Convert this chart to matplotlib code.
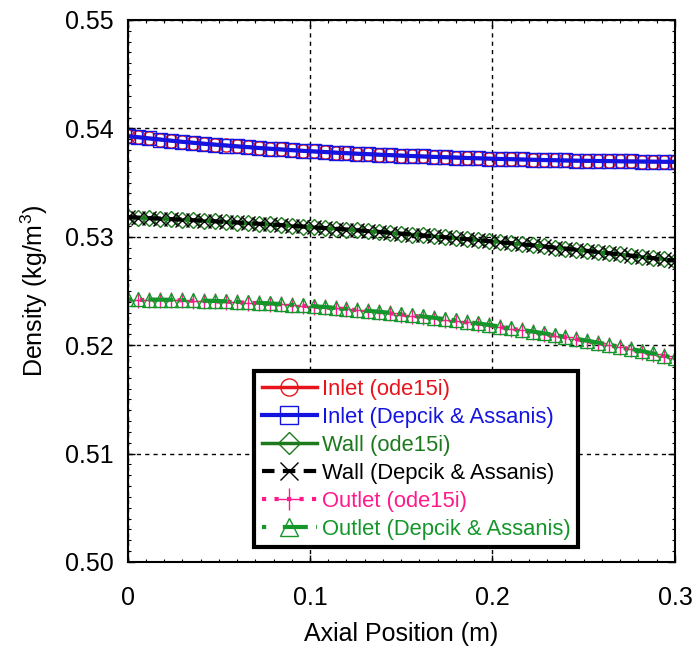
import numpy as np
import matplotlib
matplotlib.use("Agg")
import matplotlib.pyplot as plt
from matplotlib.ticker import MultipleLocator

plt.rcParams['font.family'] = ['Liberation Sans', 'DejaVu Sans']
plt.rcParams['mathtext.fontset'] = 'custom'
plt.rcParams['mathtext.rm'] = 'Liberation Sans'

# axial positions (m)
pos = [0.000, 0.006, 0.012, 0.018, 0.024, 0.030, 0.036, 0.042, 0.048, 0.054,
       0.060, 0.066, 0.072, 0.078, 0.084, 0.090, 0.096, 0.102, 0.108, 0.114,
       0.120, 0.126, 0.132, 0.138, 0.144, 0.150, 0.156, 0.162, 0.168, 0.174,
       0.180, 0.186, 0.192, 0.198, 0.204, 0.210, 0.216, 0.222, 0.228, 0.234,
       0.240, 0.246, 0.252, 0.258, 0.264, 0.270, 0.276, 0.282, 0.288, 0.294,
       0.300]

inlet_ode = [0.53930, 0.53919, 0.53908, 0.53897, 0.53887, 0.53877, 0.53868, 0.53859, 0.53851, 0.53843,
             0.53835, 0.53827, 0.53820, 0.53813, 0.53806, 0.53800, 0.53794, 0.53788, 0.53782, 0.53777,
             0.53772, 0.53767, 0.53762, 0.53758, 0.53753, 0.53749, 0.53745, 0.53741, 0.53737, 0.53734,
             0.53730, 0.53727, 0.53724, 0.53721, 0.53718, 0.53715, 0.53713, 0.53710, 0.53708, 0.53706,
             0.53704, 0.53702, 0.53700, 0.53699, 0.53697, 0.53696, 0.53695, 0.53694, 0.53693, 0.53692,
             0.53691]
inlet_dep = [0.53928, 0.53918, 0.53907, 0.53897, 0.53886, 0.53876, 0.53867, 0.53858, 0.53850, 0.53842,
             0.53834, 0.53827, 0.53819, 0.53812, 0.53806, 0.53799, 0.53793, 0.53787, 0.53782, 0.53776,
             0.53771, 0.53766, 0.53762, 0.53757, 0.53753, 0.53749, 0.53745, 0.53741, 0.53737, 0.53734,
             0.53731, 0.53727, 0.53724, 0.53721, 0.53718, 0.53716, 0.53713, 0.53711, 0.53708, 0.53706,
             0.53704, 0.53702, 0.53701, 0.53699, 0.53698, 0.53696, 0.53695, 0.53694, 0.53693, 0.53692,
             0.53691]

wall_ode = [0.53180, 0.53176, 0.53171, 0.53167, 0.53162, 0.53158, 0.53153, 0.53147, 0.53142, 0.53137,
            0.53131, 0.53125, 0.53120, 0.53114, 0.53107, 0.53101, 0.53094, 0.53088, 0.53081, 0.53074,
            0.53067, 0.53060, 0.53052, 0.53044, 0.53037, 0.53029, 0.53021, 0.53012, 0.53004, 0.52996,
            0.52987, 0.52978, 0.52969, 0.52960, 0.52950, 0.52941, 0.52931, 0.52922, 0.52912, 0.52901,
            0.52891, 0.52881, 0.52870, 0.52860, 0.52849, 0.52838, 0.52826, 0.52815, 0.52804, 0.52792,
            0.52780]
wall_dep = [0.53182, 0.53177, 0.53172, 0.53168, 0.53163, 0.53158, 0.53153, 0.53148, 0.53143, 0.53137,
            0.53132, 0.53126, 0.53120, 0.53114, 0.53108, 0.53101, 0.53095, 0.53088, 0.53081, 0.53074,
            0.53067, 0.53060, 0.53052, 0.53045, 0.53037, 0.53029, 0.53021, 0.53013, 0.53004, 0.52996,
            0.52987, 0.52978, 0.52969, 0.52960, 0.52950, 0.52941, 0.52931, 0.52921, 0.52911, 0.52901,
            0.52891, 0.52880, 0.52870, 0.52859, 0.52848, 0.52837, 0.52826, 0.52815, 0.52803, 0.52791,
            0.52779]

outlet_ode = [0.52418, 0.52418, 0.52417, 0.52416, 0.52415, 0.52413, 0.52410, 0.52407, 0.52404, 0.52401,
              0.52396, 0.52392, 0.52387, 0.52381, 0.52376, 0.52369, 0.52363, 0.52356, 0.52348, 0.52340,
              0.52332, 0.52323, 0.52313, 0.52304, 0.52294, 0.52283, 0.52272, 0.52261, 0.52249, 0.52236,
              0.52224, 0.52210, 0.52197, 0.52183, 0.52168, 0.52153, 0.52138, 0.52122, 0.52106, 0.52089,
              0.52072, 0.52055, 0.52037, 0.52019, 0.52000, 0.51981, 0.51961, 0.51941, 0.51920, 0.51899,
              0.51878]
outlet_dep = [0.52422, 0.52422, 0.52421, 0.52420, 0.52419, 0.52417, 0.52414, 0.52411, 0.52408, 0.52405,
              0.52400, 0.52396, 0.52391, 0.52385, 0.52380, 0.52373, 0.52367, 0.52360, 0.52352, 0.52344,
              0.52336, 0.52327, 0.52317, 0.52308, 0.52298, 0.52287, 0.52276, 0.52265, 0.52253, 0.52240,
              0.52228, 0.52214, 0.52201, 0.52187, 0.52172, 0.52157, 0.52142, 0.52126, 0.52110, 0.52093,
              0.52076, 0.52059, 0.52041, 0.52023, 0.52004, 0.51985, 0.51965, 0.51945, 0.51924, 0.51903,
              0.51882]

labels = ["Inlet (ode15i)", "Inlet (Depcik & Assanis)", "Wall (ode15i)",
          "Wall (Depcik & Assanis)", "Outlet (ode15i)", "Outlet (Depcik & Assanis)"]
red = '#e8141c'
blue = '#1414e0'
dgreen = '#1c7a1c'
pink = '#ff1a8c'
green = '#14962a'

fig = plt.figure(figsize=(6.96, 6.55), dpi=100)
ax = fig.add_axes([0.1832, 0.142, 0.7866, 0.8275])

ax.plot(pos, inlet_ode, color=red, lw=2.5, marker='o', ms=9.5, mfc='none', mew=1.0, label=labels[0])
ax.plot(pos, inlet_dep, color=blue, lw=3, marker='s', ms=10, mfc='none', mew=1.0, label=labels[1])
ax.plot(pos, wall_ode, color=dgreen, lw=2.5, marker='D', ms=8.5, mfc='none', mew=1.0, label=labels[2])
ax.plot(pos, wall_dep, color='black', lw=3, ls=(0, (3, 2)), marker='x', ms=10, mew=1.0, label=labels[3])
ax.plot(pos, outlet_ode, color=pink, lw=3, ls=(0, (1, 2)), marker='+', ms=12, mew=1.0, label=labels[4])
ax.plot(pos, outlet_dep, color=green, lw=3, ls=(0, (1, 4, 6, 2)), marker='^', ms=9.5, mfc='none', mew=1.0,
        label=labels[5])

ax.set_xlim(0, 0.3)
ax.set_ylim(0.50, 0.55)
ax.xaxis.set_minor_locator(MultipleLocator(0.01))
ax.yaxis.set_minor_locator(MultipleLocator(0.001))
ax.set_xticks([0, 0.1, 0.2, 0.3])
ax.set_xticklabels(['0', '0.1', '0.2', '0.3'])
ax.set_yticks([0.50, 0.51, 0.52, 0.53, 0.54, 0.55])
ax.set_yticklabels(['0.50', '0.51', '0.52', '0.53', '0.54', '0.55'])

ax.tick_params(which='both', direction='in', top=True, right=True, labelsize=18)
ax.tick_params(which='major', length=5, width=1)
ax.tick_params(which='minor', length=2.5, width=0.8)
ax.tick_params(axis='x', pad=17)
ax.tick_params(axis='y', pad=10)
for s in ax.spines.values():
    s.set_linewidth(1.5)

ax.grid(True, which='major', color='black', ls=(0, (3, 3)), lw=1)

ax.set_xlabel('Axial Position (m)', fontsize=18, labelpad=9)
ax.set_ylabel('Density (kg/m$^3$)', fontsize=18, labelpad=11)

leg = ax.legend(loc='lower left', bbox_to_anchor=(0.231, 0.027), fontsize=15.8, frameon=True,
                fancybox=False, framealpha=1, edgecolor='black', borderaxespad=0,
                handlelength=2.5, handletextpad=0.25, labelspacing=0.32, borderpad=0.35,
                numpoints=1, markerscale=1.3)
leg.get_frame().set_linewidth(3)
for txt, c in zip(leg.get_texts(), [red, blue, dgreen, 'black', pink, green]):
    txt.set_color(c)

fig.savefig('out.png', dpi=100)
